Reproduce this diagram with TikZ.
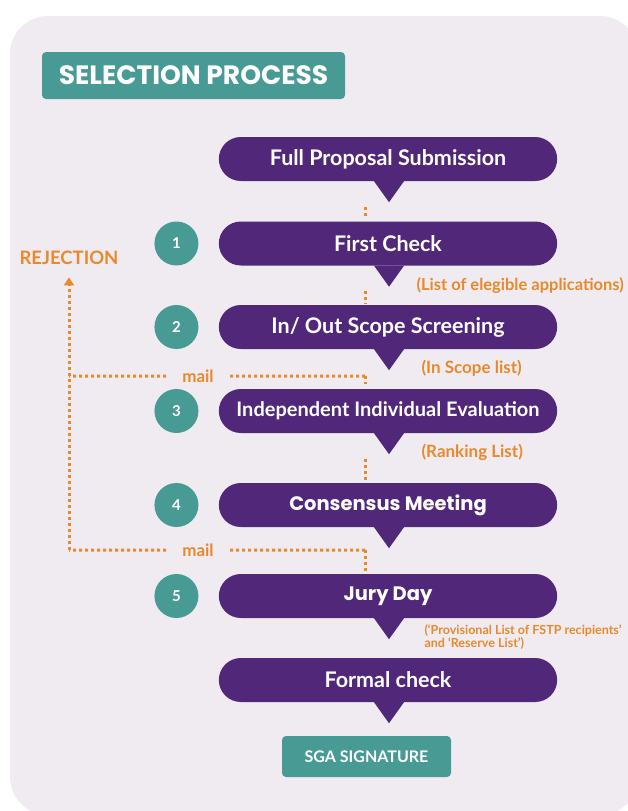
\documentclass[tikz,border=0pt]{standalone}
\usepackage{fontspec}
\setmainfont{Lato}
\newfontfamily\headfont{Poppins}
\usetikzlibrary{positioning,shapes.misc,arrows.meta}

\definecolor{lilac}{HTML}{EFEBF1}
\definecolor{deeppurple}{HTML}{51277A}
\definecolor{stepgreen}{HTML}{489B95}
\definecolor{mailorange}{HTML}{E8892C}

\tikzset{
	stage/.style={rounded rectangle,fill=deeppurple,text=white,minimum width=345pt,minimum height=44pt,
		font=\bfseries\fontsize{21.5}{24}\selectfont},
	badge/.style={circle,fill=stepgreen,text=white,minimum size=44pt,inner sep=0pt,
		font=\bfseries\fontsize{15}{17}\selectfont},
	tag/.style={fill=stepgreen,text=white,rounded corners=4pt},
	note/.style={text=mailorange,anchor=west,font=\bfseries\fontsize{17}{19}\selectfont},
	dots/.style={mailorange,line width=3pt,dash pattern=on 3pt off 3pt},
}

\begin{document}
\begin{tikzpicture}[x=1pt,y=-1pt]

	\useasboundingbox (0,0) rectangle (627,811);

	% background
	\fill[lilac,rounded corners=38pt] (10,16) rectangle (638,815);

	% title
	\node[tag,minimum width=303pt,minimum height=47pt,font=\headfont\bfseries\fontsize{26.5}{30}\selectfont]
		(title) at (193.5,75.5) {SELECTION PROCESS};

	% stages
	\node[stage] (submit) at (388,159)   {Full Proposal Submission};
	\node[stage] (check)  at (388,243.5) {First Check};
	\node[stage] (scope)  at (388,327)   {In/ Out Scope Screening};
	\node[stage,font=\bfseries\fontsize{20}{24}\selectfont] (eval) at (388,411) {Independent Individual Evaluation};
	\node[stage,font=\headfont\bfseries\fontsize{19.5}{22}\selectfont] (meet) at (388,505) {Consensus Meeting};
	\node[stage,font=\headfont\bfseries\fontsize{19.5}{22}\selectfont] (jury) at (388,596) {Jury Day};
	\node[stage] (formal) at (388,680)   {Formal check};

	%pointers
	\foreach \s in {submit,check,scope,eval,meet,jury,formal}
		\fill[deeppurple] ([xshift=-14pt]\s.south) -- ([xshift=16pt]\s.south) -- ([xshift=1pt,yshift=-21pt]\s.south) -- cycle;

	% step numbers
	\foreach \n/\s in {1/check,2/scope,3/eval,4/meet,5/jury}
		\node[badge,left=20pt of \s] (n\n) {\n};

	% end
	\node[tag,minimum width=169pt,minimum height=41pt,font=\bfseries\fontsize{16}{18}\selectfont]
		(sga) at (366.5,756.5) {SGA SIGNATURE};

	% lists
	\node[note,font=\bfseries\fontsize{16.5}{19}\selectfont] (elig) at (413,286) {(List of elegible applications)};
	\node[note] (inscope) at (418,368) {(In Scope list)};
	\node[note] (rank)    at (418,452) {(Ranking List)};
	\node[note,align=left,font=\bfseries\fontsize{12.5}{11.5}\selectfont]
		(prov) at (421,637.5) {(‘Provisional List of FSTP recipients’\\and ‘Reserve List’)};

	% dotted links
	\draw[dots] ([xshift=-23pt,yshift=-26pt]submit.south) -- ([xshift=-23pt,yshift=5pt]check.north);
	\draw[dots] ([xshift=-23pt,yshift=-25pt]check.south) -- ([xshift=-23pt,yshift=2pt]scope.north);
	\coordinate (m1) at ([xshift=-23pt,yshift=-27pt]scope.south);
	\draw[dots] (m1) -- ([xshift=-23pt,yshift=5pt]eval.north);
	\draw[dots] ([xshift=-23pt,yshift=-26pt]eval.south) -- ([xshift=-23pt,yshift=2pt]meet.north);
	\coordinate (m2) at ([xshift=-23pt,yshift=-23pt]meet.south);
	\draw[dots] (m2) -- ([xshift=-23pt,yshift=2pt]jury.north);

	% rejection
	\node[note,anchor=center,font=\bfseries\fontsize{18.5}{20}\selectfont] (rej) at (69,258) {REJECTION};
	\node[note,anchor=center,inner xsep=16pt] (mail1) at (198,376) {mail};
	\node[note,anchor=center,inner xsep=16pt] (mail2) at (198,550) {mail};
	\draw[dots] (m1) -- (mail1.east);
	\draw[dots] (mail1.west) -- (rej |- m1);
	\draw[dots] (m2) -- (mail2.east);
	\draw[dots] (mail2.west) -- (rej |- m2);
	\draw[dots,-{Triangle[width=10pt,length=8pt]}] (rej |- m2) -- ([yshift=-9pt]rej.south);

\end{tikzpicture}
\end{document}
